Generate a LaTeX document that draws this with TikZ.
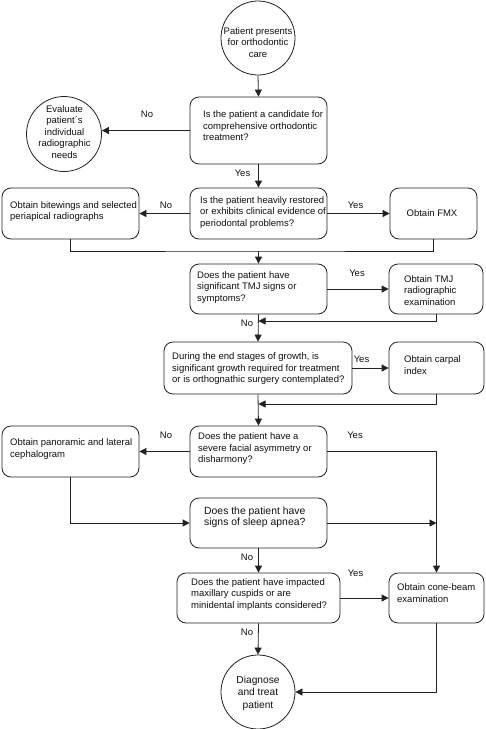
\documentclass[tikz,border=0pt]{standalone}
\usepackage{fontspec}
\setmainfont{Liberation Sans}
\usetikzlibrary{arrows.meta}
\definecolor{lc}{HTML}{222222}
\definecolor{tc}{HTML}{111111}
\begin{document}
\begin{tikzpicture}[x=1pt,y=-1pt,
  box/.style={draw=lc, line width=0.8pt, rounded corners=9pt, inner sep=0pt},
  circ/.style={draw=lc, line width=0.8pt, circle, inner sep=0pt},
  txt/.style={inner sep=0pt, align=left, anchor=west, font=\fontsize{9.5}{11.5}\selectfont, text=tc},
  ctxt/.style={inner sep=0pt, align=center, font=\fontsize{9.5}{11.5}\selectfont, text=tc},
  lab/.style={inner sep=0pt, font=\fontsize{9.5}{11.5}\selectfont, text=tc},
  arr/.style={draw=lc, line width=0.8pt, -{Triangle[length=7pt,width=7pt]}},
  ln/.style={draw=lc, line width=0.8pt},
]
\useasboundingbox (0,0) rectangle (486,729);
\fill[white] (0,0) rectangle (486,729);

% circles
\node[circ, minimum size=74pt] (start) at (258,38) {};
\node[circ, minimum size=75pt] (eval) at (64,134) {};
\node[circ, minimum size=74pt] (end) at (258,692) {};

% boxes
\node[box, minimum width=137pt, minimum height=67pt] (b1) at (258.5,130.5) {};
\node[box, minimum width=137pt, minimum height=51pt] (bw) at (70.5,213.5) {};
\node[box, minimum width=137pt, minimum height=51pt] (b2) at (258.5,213.5) {};
\node[box, minimum width=87pt, minimum height=51pt] (fmx) at (433.5,213.5) {};
\node[box, minimum width=137pt, minimum height=50pt] (b3) at (258.5,289) {};
\node[box, minimum width=94pt, minimum height=50pt] (tmj) at (436,289) {};
\node[box, minimum width=188pt, minimum height=52pt] (b4) at (258,368) {};
\node[box, minimum width=95pt, minimum height=52pt] (carp) at (436.5,368) {};
\node[box, minimum width=137pt, minimum height=51pt] (b5) at (258.5,451.5) {};
\node[box, minimum width=137pt, minimum height=51pt] (pan) at (70.5,451.5) {};
\node[box, minimum width=137pt, minimum height=50pt] (b6) at (258.5,523) {};
\node[box, minimum width=163pt, minimum height=50pt] (b7) at (258.5,598) {};
\node[box, minimum width=95pt, minimum height=50pt] (cone) at (436.5,598) {};

% texts
\node[ctxt] (tstart) at (258,42.5) {Patient presents\\for orthodontic\\care};
\node[ctxt] (teval) at (64.5,132) {Evaluate\\patient´s\\individual\\radiographic\\needs};
\node[ctxt, font=\fontsize{10.2}{12.6}\selectfont] (tend) at (258,693) {Diagnose\\and treat\\patient};
\node[txt] (t1) at (203,126) {Is the patient a candidate for\\comprehensive orthodontic\\treatment?};
\node[txt] (tbw) at (10,211.5) {Obtain bitewings and selected\\periapical radiographs};
\node[txt] (t2) at (200,212.5) {Is the patient heavily restored\\or exhibits clinical evidence of\\periodontal problems?};
\node[ctxt] (tfmx) at (432,213) {Obtain FMX};
\node[txt] (t3) at (197,287.5) {Does the patient have\\significant TMJ signs or\\symptoms?};
\node[txt] (ttmj) at (404,290.5) {Obtain TMJ\\radiographic\\examination};
\node[txt] (t4) at (172,369) {During the end stages of growth, is\\significant growth required for treatment\\or is orthognathic surgery contemplated?};
\node[txt] (tcarp) at (404,365) {Obtain carpal\\index};
\node[txt] (t5) at (198,449) {Does the patient have a\\severe facial asymmetry or\\disharmony?};
\node[txt] (tpan) at (10,449) {Obtain panoramic and lateral\\cephalogram};
\node[txt, font=\fontsize{10.4}{11.5}\selectfont] (t6) at (204,517.5) {Does the patient have\\signs of sleep apnea?};
\node[txt] (t7) at (191,594.5) {Does the patient have impacted\\maxillary cuspids or are\\minidental implants considered?};
\node[txt] (tcone) at (397,593) {Obtain cone-beam\\examination};

% merge points
\coordinate (m1) at (258.5,251);
\coordinate (m2) at (258.5,321);
\coordinate (m3) at (258.5,404);

% connectors
\draw[arr] (start.south) -- (b1.north);
\draw[arr] (b1.west) -- (b1.west -| eval.east);
\draw[arr] (b1.south) -- (b2.north);
\draw[arr] (b2.west) -- (bw.east);
\draw[arr] (b2.east) -- (fmx.west);
\draw[ln] (bw.south) |- (m1) -| (fmx.south);
\draw[arr] (m1) -- (b3.north);
\draw[arr] (b3.east) -- (b3.east -| tmj.west);
\draw[arr] (tmj.south) |- (m2);
\draw[arr] (b3.south) -- (b4.north);
\draw[arr] (b4.east) -- (carp.west);
\draw[arr] (carp.south) |- (m3);
\draw[arr] (b4.south) -- (b5.north);
\draw[arr] (b5.west) -- (pan.east);
\draw[arr] (b5.east) -| (cone.north);
\draw[arr] (pan.south) |- (b6.west);
\draw[arr] (b6.east) -- (b6.east -| cone.north);
\draw[arr] (b6.south) -- (b7.north);
\draw[arr] (b7.east) -- (cone.west);
\draw[arr] (b7.south) -- (end.north);
\draw[arr] (cone.south) |- (end.east);

% labels
\node[lab] (l1) at (147,114) {No};
\node[lab] (l2) at (242.5,173) {Yes};
\node[lab] (l3) at (166,205) {No};
\node[lab] (l4) at (355.5,205) {Yes};
\node[lab] (l5) at (357,273) {Yes};
\node[lab] (l6) at (247,323) {No};
\node[lab] (l7) at (361.5,359) {Yes};
\node[lab] (l8) at (166,435) {No};
\node[lab] (l9) at (355,435) {Yes};
\node[lab] (l10) at (247,557) {No};
\node[lab] (l11) at (355.5,573) {Yes};
\node[lab] (l12) at (247,632) {No};
\end{tikzpicture}
\end{document}
